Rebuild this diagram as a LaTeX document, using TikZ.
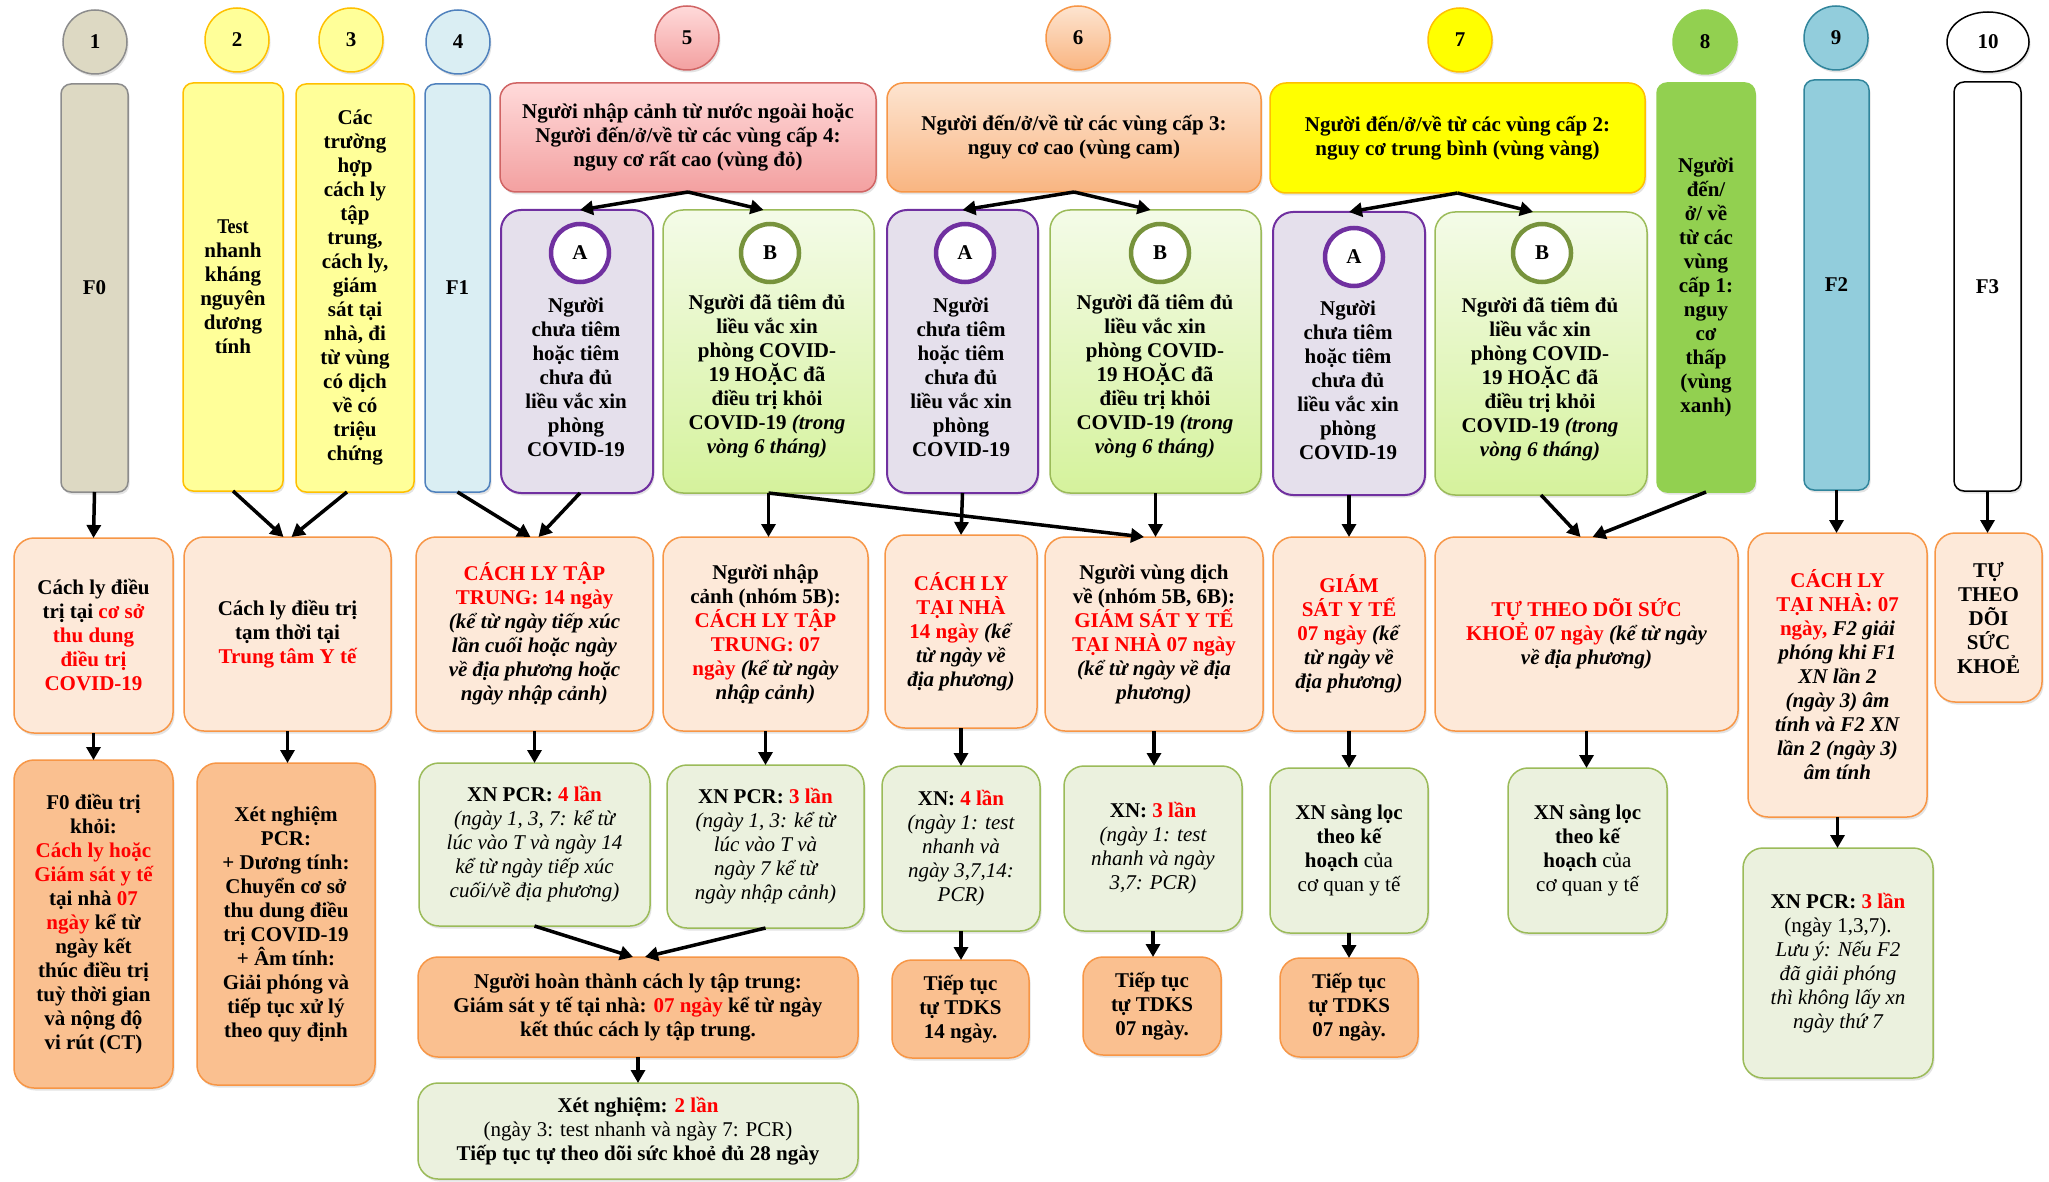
\documentclass[tikz,border=0pt]{standalone}
\usepackage{fontspec}
\setmainfont{Liberation Serif}
\newfontfamily\condfont[FakeStretch=0.86]{Liberation Serif}
\usetikzlibrary{arrows.meta,shapes.geometric,shadows}
\definecolor{f0fill}{HTML}{DDD9C3}\definecolor{f0draw}{HTML}{8C8C8C}
\definecolor{yfill}{HTML}{FFFF99}\definecolor{ydraw}{HTML}{FFC000}
\definecolor{f1fill}{HTML}{DAEEF3}\definecolor{f1draw}{HTML}{4F81BD}
\definecolor{rtop}{HTML}{FFDADA}\definecolor{rbot}{HTML}{F3A0A0}\definecolor{rdraw}{HTML}{D06464}
\definecolor{otop}{HTML}{FDE4D0}\definecolor{obot}{HTML}{F9B581}\definecolor{odraw}{HTML}{F79646}
\definecolor{y7fill}{HTML}{FFFF00}
\definecolor{g8fill}{HTML}{92D050}
\definecolor{f2fill}{HTML}{92CDDC}\definecolor{f2draw}{HTML}{31859C}
\definecolor{afill}{HTML}{E5E0EC}\definecolor{adraw}{HTML}{7030A0}
\definecolor{btop}{HTML}{F4FBE8}\definecolor{bbot}{HTML}{D5F29C}\definecolor{bdraw}{HTML}{9BBB59}\definecolor{bcirc}{HTML}{77933C}
\definecolor{lfill}{HTML}{FDE9D9}
\definecolor{gfill}{HTML}{EBF1DE}
\definecolor{ofill}{HTML}{FAC090}
\definecolor{redtxt}{HTML}{FF0000}
\newcommand\redt[1]{\textcolor{redtxt}{#1}}
\newcommand\bital[1]{\textit{#1}}
\newcommand\lital[1]{{\mdseries\itshape #1}}
\newcommand\lreg[1]{{\mdseries #1}}
\begin{document}
\begin{tikzpicture}[x=1pt,y=-1pt,
  base/.style={font=\fontsize{21}{24}\selectfont\bfseries, align=center, inner sep=0pt, outer sep=0pt},
  sh/.style={drop shadow={shadow xshift=1.5pt,shadow yshift=-2.5pt,opacity=.22}},
  numc/.style={base, circle, minimum size=64pt, line width=1.5pt, sh},
  bar/.style={base, rectangle, rounded corners=10pt, line width=1.5pt, sh},
  hdr/.style={base, rectangle, rounded corners=16pt, line width=1.5pt, sh},
  abox/.style={base, rectangle, rounded corners=20pt, line width=2pt, fill=afill, draw=adraw, sh},
  bbox/.style={base, rectangle, rounded corners=20pt, line width=1.5pt, top color=btop, bottom color=bbot, draw=bdraw, sh},
  acirc/.style={base, circle, minimum size=58pt, line width=4.5pt, fill=white, draw=adraw},
  bcircle/.style={base, circle, minimum size=58pt, line width=4.5pt, fill=white, draw=bcirc},
  lbox/.style={base, rectangle, rounded corners=20pt, line width=1.5pt, fill=lfill, draw=odraw, sh},
  gbox/.style={base, rectangle, rounded corners=20pt, line width=1.5pt, fill=gfill, draw=bdraw, sh},
  obox/.style={base, rectangle, rounded corners=20pt, line width=1.5pt, fill=ofill, draw=odraw, sh},
  arr/.style={line width=3.5pt, -{Triangle[length=13pt,width=14pt]}}
]
\useasboundingbox[fill=white] (0,0) rectangle (2049,1182);

% ---- number circles
\node[numc, fill=f0fill, draw=f0draw] (n1) at (95,42) {1};
\node[numc, fill=yfill, draw=ydraw] (n2) at (237,40) {2};
\node[numc, fill=yfill, draw=ydraw] (n3) at (351,40) {3};
\node[numc, fill=f1fill, draw=f1draw] (n4) at (458,42) {4};
\node[numc, top color=rtop, bottom color=rbot, draw=rdraw] (n5) at (687,38) {5};
\node[numc, top color=otop, bottom color=obot, draw=odraw] (n6) at (1078,38) {6};
\node[numc, fill=y7fill, draw=ydraw] (n7) at (1460,40) {7};
\node[numc, fill=g8fill, draw=g8fill] (n8) at (1705,42) {8};
\node[numc, fill=f2fill, draw=f2draw] (n9) at (1836,38) {9};
\node[base, ellipse, minimum width=82pt, minimum height=60pt, line width=1.5pt, fill=white, draw=black, sh] (n10) at (1988,42) {10};

% ---- top bars / headers
\node[bar, fill=f0fill, draw=f0draw, minimum width=67pt, minimum height=408pt] (F0) at (94.5,288) {F0};
\node[bar, fill=yfill, draw=ydraw, minimum width=100pt, minimum height=408pt] (B2) at (233,287) {\condfont\bfseries Test\\nhanh\\kháng\\nguyên\\dương\\tính};
\node[bar, fill=yfill, draw=ydraw, minimum width=118pt, minimum height=408pt] (B3) at (355,288) {Các\\trường\\hợp\\cách ly\\tập\\trung,\\cách ly,\\giám\\sát tại\\nhà, đi\\từ vùng\\có dịch\\về có\\triệu\\chứng};
\node[bar, fill=f1fill, draw=f1draw, minimum width=65pt, minimum height=408pt] (F1) at (457.5,288) {F1};
\node[hdr, top color=rtop, bottom color=rbot, draw=rdraw, minimum width=376pt, minimum height=109pt] (H5) at (688,137.5) {Người nhập cảnh từ nước ngoài hoặc\\Người đến/ở/về từ các vùng cấp 4:\\nguy cơ rất cao (vùng đỏ)};
\node[hdr, top color=otop, bottom color=obot, draw=odraw, minimum width=374pt, minimum height=109pt] (H6) at (1074,137.5) {Người đến/ở/về từ các vùng cấp 3:\\nguy cơ cao (vùng cam)};
\node[hdr, fill=y7fill, draw=ydraw, minimum width=375pt, minimum height=110pt] (H7) at (1457.5,138) {Người đến/ở/về từ các vùng cấp 2:\\nguy cơ trung bình (vùng vàng)};
\node[bar, fill=g8fill, draw=g8fill, minimum width=98pt, minimum height=409pt] (B8) at (1706,287.5) {Người\\đến/\\ở/ về\\từ các\\vùng\\cấp 1:\\nguy\\cơ\\thấp\\(vùng\\xanh)};
\node[bar, fill=f2fill, draw=f2draw, minimum width=65pt, minimum height=410pt] (F2) at (1836.5,285) {F2};
\node[bar, fill=white, draw=black, minimum width=67pt, minimum height=409pt] (F3) at (1987.5,286.5) {F3};

% ---- A / B boxes
\node[abox, minimum width=152pt, minimum height=283pt] (A5) at (577,351.5) {};
\node[bbox, minimum width=211pt, minimum height=283pt] (B5) at (768.5,351.5) {};
\node[abox, minimum width=151pt, minimum height=283pt] (A6) at (962.5,351.5) {};
\node[bbox, minimum width=211pt, minimum height=283pt] (B6) at (1155.5,351.5) {};
\node[abox, minimum width=152pt, minimum height=283pt] (A7) at (1349,353.5) {};
\node[bbox, minimum width=212pt, minimum height=283pt] (B7) at (1541,353.5) {};

\node[acirc] (A5c) at (580,253) {A};
\node[bcircle] (B5c) at (770,253) {B};
\node[acirc] (A6c) at (965,253) {A};
\node[bcircle] (B6c) at (1160,253) {B};
\node[acirc] (A7c) at (1354,257) {A};
\node[bcircle] (B7c) at (1542,253) {B};

\node[base] (A5t) at (576,377) {Người\\chưa tiêm\\hoặc tiêm\\chưa đủ\\liều vắc xin\\phòng\\COVID-19};
\node[base] (B5t) at (767,376) {Người đã tiêm đủ\\liều vắc xin\\phòng COVID-\\19 HOẶC đã\\điều trị khỏi\\COVID-19 \bital{(trong}\\\bital{vòng 6 tháng)}};
\node[base] (A6t) at (961,377) {Người\\chưa tiêm\\hoặc tiêm\\chưa đủ\\liều vắc xin\\phòng\\COVID-19};
\node[base] (B6t) at (1155,376) {Người đã tiêm đủ\\liều vắc xin\\phòng COVID-\\19 HOẶC đã\\điều trị khỏi\\COVID-19 \bital{(trong}\\\bital{vòng 6 tháng)}};
\node[base] (A7t) at (1348,380) {Người\\chưa tiêm\\hoặc tiêm\\chưa đủ\\liều vắc xin\\phòng\\COVID-19};
\node[base] (B7t) at (1540,379) {Người đã tiêm đủ\\liều vắc xin\\phòng COVID-\\19 HOẶC đã\\điều trị khỏi\\COVID-19 \bital{(trong}\\\bital{vòng 6 tháng)}};

% ---- row 2
\node[lbox, minimum width=159pt, minimum height=195pt] (R0) at (93.5,635.5) {Cách ly điều\\trị tại \redt{cơ sở}\\\redt{thu dung}\\\redt{điều trị}\\\redt{COVID-19}};
\node[lbox, minimum width=207pt, minimum height=194pt] (R23) at (287.5,634) {Cách ly điều trị\\tạm thời tại\\\redt{Trung tâm Y tế}};
\node[lbox, minimum width=237pt, minimum height=194pt] (RTT) at (534.5,634) {\redt{CÁCH LY TẬP}\\\redt{TRUNG: 14 ngày}\\\bital{(kể từ ngày tiếp xúc}\\\bital{lần cuối hoặc ngày}\\\bital{về địa phương hoặc}\\\bital{ngày nhập cảnh)}};
\node[lbox, minimum width=205pt, minimum height=194pt] (R5B) at (765.5,634) {Người nhập\\cảnh (nhóm 5B):\\\redt{CÁCH LY TẬP}\\\redt{TRUNG: 07}\\\redt{ngày} \bital{(kể từ ngày}\\\bital{nhập cảnh)}};
\node[lbox, minimum width=152pt, minimum height=193pt] (R14) at (961,631.5) {\redt{CÁCH LY}\\\redt{TẠI NHÀ}\\\redt{14 ngày} \bital{(kể}\\\bital{từ ngày về}\\\bital{địa phương)}};
\node[lbox, minimum width=218pt, minimum height=194pt] (RVD) at (1154,634) {Người vùng dịch\\về (nhóm 5B, 6B):\\\redt{GIÁM SÁT Y TẾ}\\\redt{TẠI NHÀ 07 ngày}\\\bital{(kể từ ngày về địa}\\\bital{phương)}};
\node[lbox, minimum width=152pt, minimum height=194pt] (RGS) at (1349,634) {\redt{GIÁM}\\\redt{SÁT Y TẾ}\\\redt{07 ngày} \bital{(kể}\\\bital{từ ngày về}\\\bital{địa phương)}};
\node[lbox, minimum width=303pt, minimum height=194pt] (RTD) at (1586.5,634) {\redt{TỰ THEO DÕI SỨC}\\\redt{KHOẺ 07 ngày} \bital{(kể từ ngày}\\\bital{về địa phương)}};
\node[lbox, minimum width=179pt, minimum height=284pt] (RF2) at (1837.5,675) {\redt{CÁCH LY}\\\redt{TẠI NHÀ: 07}\\\redt{ngày,} \bital{F2 giải}\\\bital{phóng khi F1}\\\bital{XN lần 2}\\\bital{(ngày 3) âm}\\\bital{tính và F2 XN}\\\bital{lần 2 (ngày 3)}\\\bital{âm tính}};
\node[lbox, minimum width=107pt, minimum height=169pt] (RF3) at (1988.5,617.5) {TỰ\\THEO\\DÕI\\SỨC\\KHOẺ};

% ---- row 3
\node[obox, minimum width=159pt, minimum height=328pt] (S0) at (93.5,924) {F0 điều trị\\khỏi:\\\redt{Cách ly hoặc}\\\redt{Giám sát y tế}\\tại nhà \redt{07}\\\redt{ngày} kể từ\\ngày kết\\thúc điều trị\\tuỳ thời gian\\và nộng độ\\vi rút (CT)};
\node[obox, minimum width=178pt, minimum height=322pt] (S23) at (286,924) {Xét nghiệm\\PCR:\\+ Dương tính:\\Chuyển cơ sở\\thu dung điều\\trị COVID-19\\+ Âm tính:\\Giải phóng và\\tiếp tục xử lý\\theo quy định};
\node[gbox, minimum width=231pt, minimum height=163pt] (STT) at (534.5,844.5) {XN PCR: \redt{4 lần}\\\lital{(ngày 1, 3, 7: kể từ}\\\lital{lúc vào T và ngày 14}\\\lital{kể từ ngày tiếp xúc}\\\lital{cuối/về địa phương)}};
\node[gbox, minimum width=197pt, minimum height=163pt] (S5B) at (765.5,846.5) {XN PCR: \redt{3 lần}\\\lital{(ngày 1, 3: kể từ}\\\lital{lúc vào T và}\\\lital{ngày 7 kể từ}\\\lital{ngày nhập cảnh)}};
\node[gbox, minimum width=158pt, minimum height=165pt] (S14) at (961,848.5) {XN: \redt{4 lần}\\\lital{(ngày 1: test}\\\lital{nhanh và}\\\lital{ngày 3,7,14:}\\\lital{PCR)}};
\node[gbox, minimum width=178pt, minimum height=165pt] (SVD) at (1153,848.5) {XN: \redt{3 lần}\\\lital{(ngày 1: test}\\\lital{nhanh và ngày}\\\lital{3,7: PCR)}};
\node[gbox, minimum width=158pt, minimum height=165pt] (SGS) at (1349,850.5) {XN sàng lọc\\theo kế\\hoạch \lreg{của}\\\lreg{cơ quan y tế}};
\node[gbox, minimum width=159pt, minimum height=165pt] (STD) at (1587.5,850.5) {XN sàng lọc\\theo kế\\hoạch \lreg{của}\\\lreg{cơ quan y tế}};
\node[gbox, minimum width=190pt, minimum height=230pt] (SF2) at (1838,963) {XN PCR: \redt{3 lần}\\\lreg{(ngày 1,3,7).}\\\lital{Lưu ý: Nếu F2}\\\lital{đã giải phóng}\\\lital{thì không lấy xn}\\\lital{ngày thứ 7}};

% ---- row 4
\node[obox, minimum width=440pt, minimum height=100pt] (NHT) at (638,1007) {Người hoàn thành cách ly tập trung:\\Giám sát y tế tại nhà: \redt{07 ngày} kể từ ngày\\kết thúc cách ly tập trung.};
\node[gbox, minimum width=440pt, minimum height=96pt] (XN2) at (638,1131) {Xét nghiệm: \redt{2 lần}\\\lreg{(ngày 3: test nhanh và ngày 7: PCR)}\\Tiếp tục tự theo dõi sức khoẻ đủ 28 ngày};
\node[obox, minimum width=137pt, minimum height=98pt] (T14) at (960.5,1009) {Tiếp tục\\tự TDKS\\14 ngày.};
\node[obox, minimum width=138pt, minimum height=98pt] (T07a) at (1152,1006) {Tiếp tục\\tự TDKS\\07 ngày.};
\node[obox, minimum width=138pt, minimum height=99pt] (T07b) at (1349,1007.5) {Tiếp tục\\tự TDKS\\07 ngày.};

% ---- connectors
\draw[arr] (H5.south) -- ([xshift=3pt]A5.north);
\draw[arr] (H5.south) -- ([xshift=-5pt]B5.north);
\draw[arr] (H6.south) -- (A6.north);
\draw[arr] (H6.south) -- ([xshift=-5pt]B6.north);
\draw[arr] (H7.south) -- (A7.north);
\draw[arr] (H7.south) -- ([xshift=-8pt]B7.north);

\draw[arr] (F0.south) -- (R0.north);
\draw[arr] (B2.south) -- ([xshift=-4pt]R23.north);
\draw[arr] ([xshift=-8pt]B3.south) -- ([xshift=4pt]R23.north);
\draw[arr] (F1.south) -- ([xshift=-4pt]RTT.north);
\draw[arr] ([xshift=3pt]A5.south) -- ([xshift=4pt]RTT.north);
\draw[arr] (B5.south) -- (B5.south |- R5B.north);
\draw[arr] (B5.south) -- ([xshift=-10pt]RVD.north);
\draw[arr] (A6.south) -- (R14.north);
\draw[arr] (B6.south) -- (B6.south |- RVD.north);
\draw[arr] (A7.south) -- (RGS.north);
\draw[arr] (B7.south) -- ([xshift=-6pt]RTD.north);
\draw[arr] (B8.south) -- ([xshift=6pt]RTD.north);
\draw[arr] (F2.south) -- (F2.south |- RF2.north);
\draw[arr] (F3.south) -- (F3.south |- RF3.north);

\draw[arr] (R0.south) -- (S0.north);
\draw[arr] (R23.south) -- (R23.south |- S23.north);
\draw[arr] (RTT.south) -- (STT.north);
\draw[arr] (R5B.south) -- (S5B.north);
\draw[arr] (R14.south) -- (S14.north);
\draw[arr] (RVD.south) -- (RVD.south |- SVD.north);
\draw[arr] (RGS.south) -- (SGS.north);
\draw[arr] (RTD.south) -- (RTD.south |- STD.north);
\draw[arr] (RF2.south) -- (RF2.south |- SF2.north);

\draw[arr] (STT.south) -- ([xshift=-5pt]NHT.north);
\draw[arr] (S5B.south) -- ([xshift=7pt]NHT.north);
\draw[arr] (NHT.south) -- (XN2.north);
\draw[arr] (S14.south) -- (S14.south |- T14.north);
\draw[arr] (SVD.south) -- (SVD.south |- T07a.north);
\draw[arr] (SGS.south) -- (T07b.north);
\end{tikzpicture}
\end{document}
